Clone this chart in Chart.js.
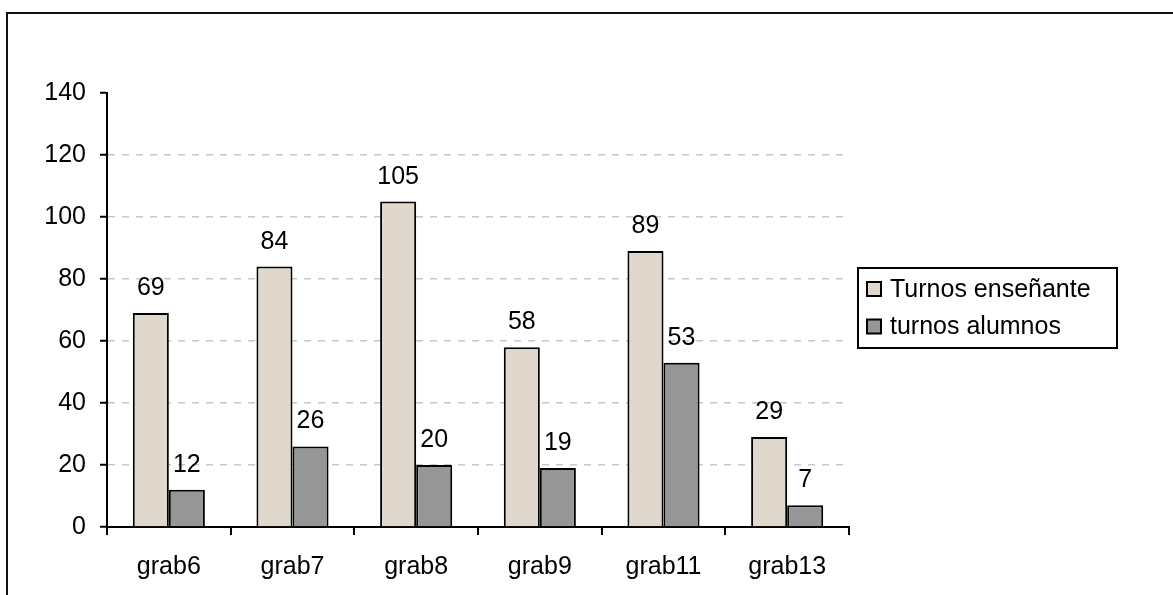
<!DOCTYPE html>
<html>
<head>
<meta charset="utf-8">
<script src="https://cdn.jsdelivr.net/npm/chart.js@4/dist/chart.umd.min.js"></script>
<style>
  html, body { margin: 0; padding: 0; background: #fff; width: 1173px; height: 595px; overflow: hidden; }
  #frame { position: absolute; left: 6px; top: 12px; width: 1300px; height: 700px; border-left: 2px solid #111; border-top: 2px solid #111; }
  #wrap { position: absolute; left: 0; top: 0; width: 1173px; height: 595px; }
</style>
</head>
<body>
<div id="frame"></div>
<div id="wrap"><canvas id="c" width="1173" height="595"></canvas></div>
<script>
const categories = ['grab6', 'grab7', 'grab8', 'grab9', 'grab11', 'grab13'];
const seriesNames = ['Turnos enseñante', 'turnos alumnos'];
const turnosEnsenante = [69, 84, 105, 58, 89, 29];
const turnosAlumnos = [12, 26, 20, 19, 53, 7];
const yTicks = [0, 20, 40, 60, 80, 100, 120, 140];

const FONT = '"Liberation Sans", Arial, sans-serif';
const FS = 25;
const colors = ['#e0d8cc', '#969696'];

const labelPlugin = {
  id: 'valueLabels',
  afterDatasetsDraw(chart) {
    const ctx = chart.ctx;
    ctx.save();
    ctx.font = FS + 'px ' + FONT;
    ctx.fillStyle = '#000';
    ctx.textAlign = 'center';
    ctx.textBaseline = 'alphabetic';
    chart.data.datasets.forEach((ds, i) => {
      chart.getDatasetMeta(i).data.forEach((bar, j) => {
        ctx.fillText(String(ds.data[j]), bar.x, bar.y - 18);
      });
    });
    ctx.restore();
  }
};

const legendPlugin = {
  id: 'boxLegend',
  afterDraw(chart) {
    const ctx = chart.ctx;
    const x0 = 858, y0 = 268, w = 259, h = 80;
    ctx.save();
    ctx.lineWidth = 2;
    ctx.strokeStyle = '#000';
    ctx.strokeRect(x0, y0, w, h);
    ctx.font = FS + 'px ' + FONT;
    ctx.textBaseline = 'middle';
    ctx.textAlign = 'left';
    chart.data.datasets.forEach((ds, i) => {
      const cy = 289 + i * 37.5;
      ctx.fillStyle = ds.backgroundColor;
      ctx.fillRect(867, cy - 7, 14, 14);
      ctx.lineWidth = 2;
      ctx.strokeRect(867, cy - 7, 14, 14);
      ctx.fillStyle = '#000';
      ctx.fillText(ds.label, 890, cy + 1);
    });
    ctx.restore();
  }
};

new Chart(document.getElementById('c'), {
  type: 'bar',
  data: {
    labels: categories,
    datasets: [
      { label: seriesNames[0], data: turnosEnsenante, backgroundColor: colors[0], borderColor: '#000', borderWidth: 2, borderSkipped: 'bottom' },
      { label: seriesNames[1], data: turnosAlumnos, backgroundColor: colors[1], borderColor: '#000', borderWidth: 2, borderSkipped: 'bottom' }
    ]
  },
  options: {
    responsive: false,
    animation: false,
    devicePixelRatio: 1,
    layout: { padding: { left: 0, top: 93, right: 324, bottom: 0 } },
    datasets: { bar: { categoryPercentage: 0.583, barPercentage: 1.0 } },
    plugins: { legend: { display: false }, tooltip: { enabled: false } },
    scales: {
      x: {
        afterFit(s) { s.height = 68; },
        grid: { offset: true, drawOnChartArea: false, color: '#000', tickColor: '#000', tickLength: 8, lineWidth: 2 },
        border: { color: '#000', width: 2 },
        ticks: { color: '#000', font: { family: FONT, size: FS }, padding: 17 }
      },
      y: {
        min: 0, max: 140,
        afterFit(s) { s.width = 107; },
        afterBuildTicks(s) { s.ticks = yTicks.map(v => ({ value: v })); },
        grid: {
          color: (c) => (c.tick && (c.tick.value === 0 || c.tick.value === 140)) ? 'rgba(0,0,0,0)' : '#c8c8c8',
          lineWidth: 1.5,
          tickColor: '#000',
          tickLength: 7,
          tickWidth: 2,
          tickBorderDash: []
        },
        border: { color: '#000', width: 2, dash: [7, 7] },
        ticks: { color: '#000', font: { family: FONT, size: FS }, padding: 14 }
      }
    }
  },
  plugins: [labelPlugin, legendPlugin]
});
</script>
</body>
</html>
